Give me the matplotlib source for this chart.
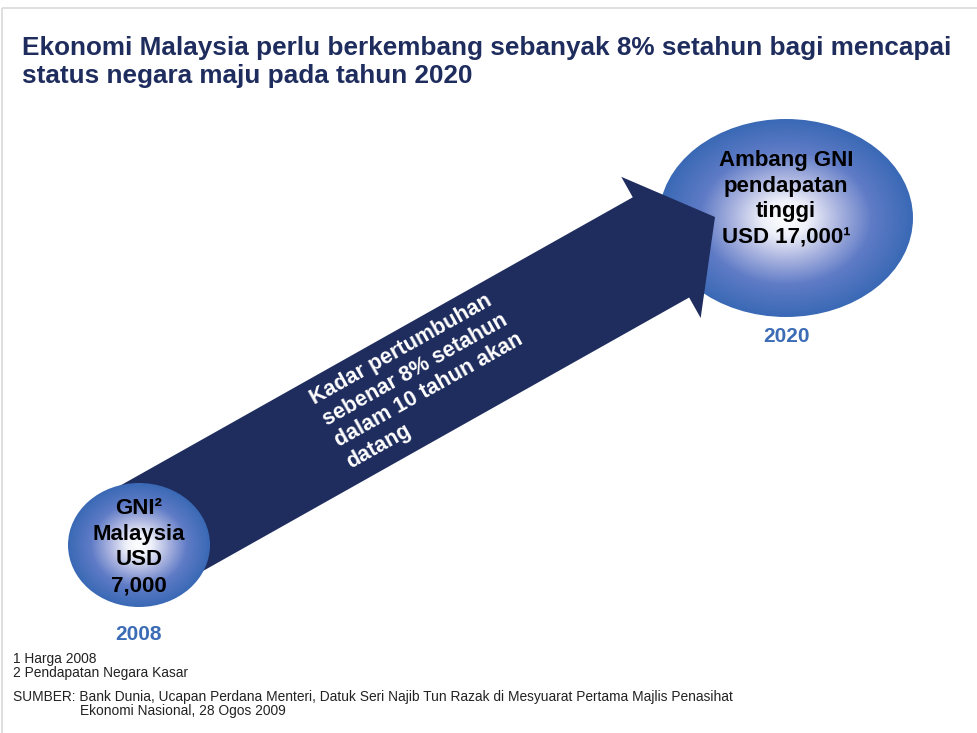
import numpy as np
import matplotlib
matplotlib.use('Agg')
from matplotlib import pyplot as plt
from matplotlib.patches import Ellipse, FancyArrow, Rectangle
from matplotlib.colors import LinearSegmentedColormap

plt.rcParams['font.family'] = ['Liberation Sans', 'DejaVu Sans']

# data
years = [2008, 2020]
gni_usd = [7000, 17000]
title_lines = ['Ekonomi Malaysia perlu berkembang sebanyak 8% setahun bagi mencapai',
               'status negara maju pada tahun 2020']
start_label = 'GNI\u00b2\nMalaysia\nUSD\n{:,}'.format(gni_usd[0])
end_label = 'Ambang GNI\npendapatan\ntinggi\nUSD {:,}\u00b9'.format(gni_usd[1])
arrow_label = 'Kadar pertumbuhan\nsebenar 8% setahun\ndalam 10 tahun akan\ndatang'
notes = ['1 Harga 2008', '2 Pendapatan Negara Kasar']
source = ['SUMBER: Bank Dunia, Ucapan Perdana Menteri, Datuk Seri Najib Tun Razak di Mesyuarat Pertama Majlis Penasihat',
          'Ekonomi Nasional, 28 Ogos 2009']

NAVY = '#1f2d5e'
YEAR_BLUE = '#3b6cb5'

bubble_cmap = LinearSegmentedColormap.from_list('bubble', [
    (0.0, '#ffffff'), (0.18, '#eef0f9'), (0.42, '#a9b3df'),
    (0.68, '#5f7bc6'), (1.0, '#3a69b5')])


def draw_bubble(ax, cx, cy, rx, ry, z):
    xs = np.linspace(-1, 1, 300)
    X, Y = np.meshgrid(xs, xs)
    r = np.clip(np.sqrt(X**2 + Y**2), 0, 1)
    el = Ellipse((cx, cy), 2 * rx, 2 * ry, facecolor='none', edgecolor='none', zorder=z)
    ax.add_patch(el)
    im = ax.imshow(r, cmap=bubble_cmap, vmin=0, vmax=1, interpolation='bilinear',
                   extent=[cx - rx, cx + rx, cy + ry, cy - ry], zorder=z)
    im.set_clip_path(el)


fig = plt.figure(figsize=(9.78, 7.33), dpi=100)
ax = fig.add_axes([0, 0, 1, 1])
ax.set_xlim(0, 978)
ax.set_ylim(733, 0)
ax.axis('off')

# slide border
ax.add_patch(Rectangle((2, 8), 1000, 800, facecolor='none', edgecolor='#d9d9d9', lw=1.2))

# title
ax.text(22, 55, title_lines[0], fontsize=18.8, fontweight='bold', color=NAVY, va='baseline')
ax.text(22, 83, title_lines[1], fontsize=18.8, fontweight='bold', color=NAVY, va='baseline')

# big bubble (2020), then arrow, then small bubble (2008)
draw_bubble(ax, 786, 218, 127, 99, 1)

tail = (139, 541)
tip = (715, 217)
ax.add_patch(FancyArrow(tail[0], tail[1], tip[0] - tail[0], tip[1] - tail[1],
                        width=115, head_width=162, head_length=62,
                        length_includes_head=True, color=NAVY, lw=0, zorder=2))

draw_bubble(ax, 139, 545, 71, 62, 3)

ax.text(786, 199, end_label, fontsize=16, fontweight='bold', color='black',
        ha='center', va='center', linespacing=1.3, zorder=5)
ax.text(139, 547, start_label, fontsize=16, fontweight='bold', color='black',
        ha='center', va='center', linespacing=1.3, zorder=5)

ax.text(786, 336, str(years[1]), fontsize=15, fontweight='bold', color=YEAR_BLUE,
        ha='center', va='center')
ax.text(139, 635, str(years[0]), fontsize=15, fontweight='bold', color=YEAR_BLUE,
        ha='center', va='center')

ang = np.degrees(np.arctan2(tail[1] - tip[1], tip[0] - tail[0]))
ax.text(307, 391, arrow_label, fontsize=15.5, fontweight='bold', color='white',
        rotation=ang, rotation_mode='anchor', ha='left', va='top',
        linespacing=1.2, zorder=5)

# footnotes
ax.text(13, 659, notes[0], fontsize=9.9, color='#222222', va='center')
ax.text(13, 673, notes[1], fontsize=9.9, color='#222222', va='center')
ax.text(13, 697, source[0], fontsize=9.9, color='#222222', va='center')
ax.text(80, 711, source[1], fontsize=9.9, color='#222222', va='center')

fig.savefig('out.png', dpi=100)
